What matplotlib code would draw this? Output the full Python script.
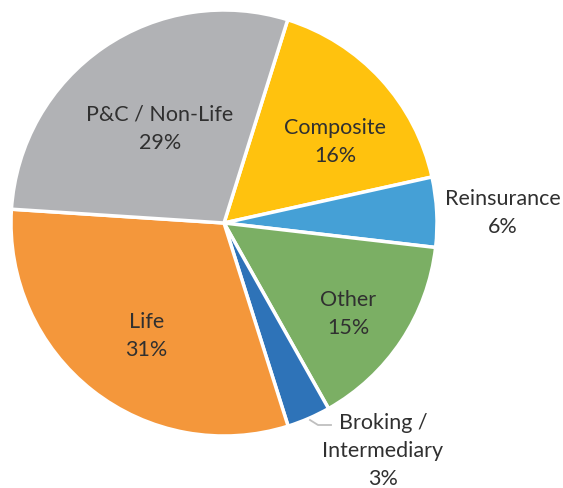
import numpy as np
import matplotlib
matplotlib.use("Agg")
import matplotlib.pyplot as plt

# Data
categories = ["Composite", "Reinsurance", "Other", "Broking /\nIntermediary", "Life", "P&C / Non-Life"]
values = [16.7, 5.3, 15.0, 3.3, 30.9, 28.8]
pct_labels = ["16%", "6%", "15%", "3%", "31%", "29%"]

colors = ["#FFC20E", "#45A0D6", "#7BAF64", "#2E73B8", "#F4973B", "#B1B2B5"]

plt.rcParams['font.family'] = ['Lato', 'DejaVu Sans']

W, H = 563, 489
fig = plt.figure(figsize=(W / 100, H / 100), dpi=100)
cx, cy, R = 224, 224, 213
ax = fig.add_axes([(cx - R) / W, (H - cy - R) / H, 2 * R / W, 2 * R / H])

wedges, _ = ax.pie(values, colors=colors, startangle=72.6, counterclock=False,
                   radius=1.0, wedgeprops=dict(edgecolor="white", linewidth=2.5))
ax.set_xlim(-1, 1)
ax.set_ylim(-1, 1)
ax.set_aspect("equal")
ax.axis("off")

# label positions: (radius, angle) in axes data units
label_pos = [(0.65, 36.5), (1.31, 2.3), (0.72, -36.0), (1.30, -55.0), (0.64, -124.6), (0.54, 124.0)]
txt_color = "#303030"
for cat, pct, (r, a) in zip(categories, pct_labels, label_pos):
    x, y = r * np.cos(np.radians(a)), r * np.sin(np.radians(a))
    ax.text(x, y, f"{cat}\n{pct}", ha="center", va="center", fontsize=15.5,
            color=txt_color, linespacing=1.5, clip_on=False)

# leader line for Broking slice
def px(p):
    return ((p[0] - cx) / R, (cy - p[1]) / R)
pts = [px((310, 421)), px((318, 426)), px((331, 426))]
ax.plot([p[0] for p in pts], [p[1] for p in pts], color="#BFBFBF", lw=1.3, clip_on=False)

fig.savefig("out.png", dpi=100, facecolor="white")
